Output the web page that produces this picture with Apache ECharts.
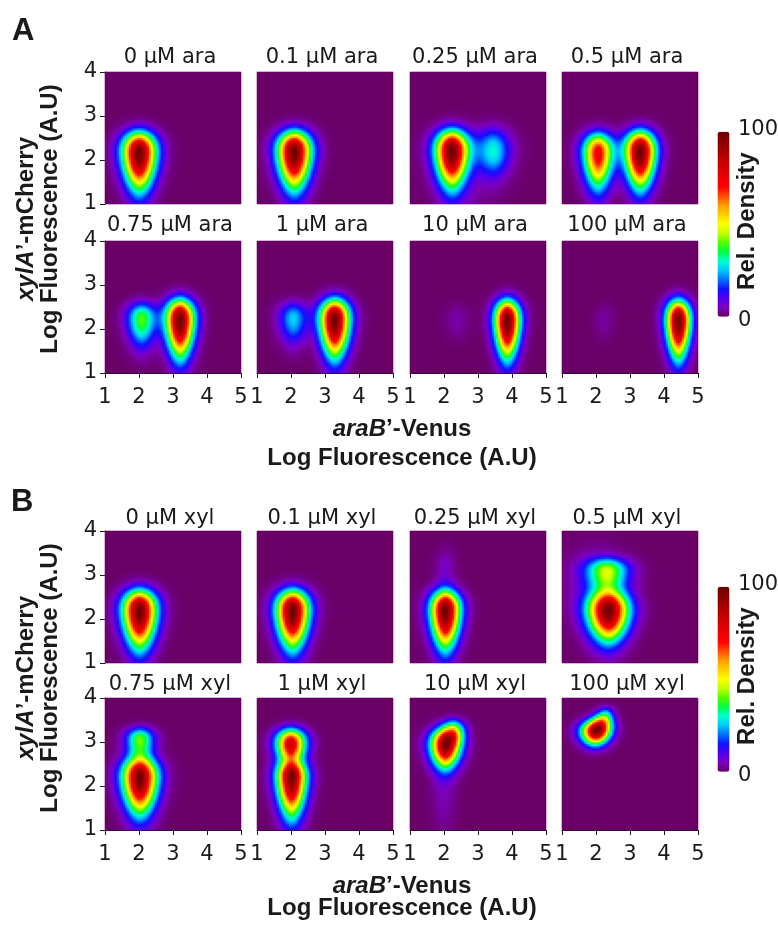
<!DOCTYPE html>
<html>
<head>
<meta charset="utf-8">
<title>ara / xyl density maps</title>
<script src="https://cdn.jsdelivr.net/npm/echarts@6/dist/echarts.min.js"></script>
<style>
  html, body { margin: 0; padding: 0; background: #fff; }
  #chart { width: 778px; height: 928px; }
</style>
</head>
<body>
<div id="chart"></div>
<script>
const araLabels = ['0 μM ara', '0.1 μM ara', '0.25 μM ara', '0.5 μM ara',
  '0.75 μM ara', '1 μM ara', '10 μM ara', '100 μM ara'];
const xylLabels = ['0 μM xyl', '0.1 μM xyl', '0.25 μM xyl', '0.5 μM xyl',
  '0.75 μM xyl', '1 μM xyl', '10 μM xyl', '100 μM xyl'];

// populations: [x, y, spreadX, spreadUp, spreadDown, height]
const araPeaks = [
  [[2.01, 2.16, 0.32, 0.34, 0.57, 1]],
  [[2.10, 2.18, 0.32, 0.34, 0.57, 1]],
  [[2.24, 2.20, 0.31, 0.34, 0.55, 1], [3.47, 2.20, 0.32, 0.37, 0.38, 0.28], [2.70, 2.00, 0.70, 0.50, 0.90, 0.05]],
  [[2.07, 2.15, 0.29, 0.33, 0.55, 0.75], [3.31, 2.18, 0.29, 0.34, 0.55, 1]],
  [[2.08, 2.22, 0.28, 0.27, 0.42, 0.40], [3.21, 2.20, 0.27, 0.34, 0.57, 1]],
  [[2.07, 2.23, 0.28, 0.27, 0.38, 0.26], [3.29, 2.20, 0.28, 0.34, 0.57, 1]],
  [[2.40, 2.20, 0.25, 0.27, 0.30, 0.04], [3.87, 2.18, 0.24, 0.34, 0.57, 1]],
  [[2.25, 2.20, 0.20, 0.27, 0.30, 0.035], [4.43, 2.18, 0.23, 0.34, 0.57, 1]],
];
const xylPeaks = [
  [[2.02, 2.18, 0.32, 0.34, 0.57, 1]],
  [[2.05, 2.18, 0.31, 0.34, 0.57, 1]],
  [[2.05, 2.18, 0.28, 0.33, 0.57, 1], [2.05, 3.10, 0.20, 0.36, 0.40, 0.06]],
  [[2.38, 2.17, 0.38, 0.33, 0.45, 1], [2.35, 3.08, 0.40, 0.22, 0.32, 0.45], [2.00, 2.80, 0.55, 0.62, 0.80, 0.07]],
  [[2.03, 2.18, 0.33, 0.33, 0.55, 1], [2.03, 3.05, 0.27, 0.20, 0.30, 0.42]],
  [[2.02, 2.18, 0.28, 0.27, 0.60, 1], [2.00, 2.95, 0.28, 0.25, 0.30, 0.85]],
  [[2.05, 2.92, 0.28, 0.27, 0.34, 1], [2.30, 3.25, 0.21, 0.19, 0.20, 0.40], [2.00, 1.80, 0.25, 0.54, 0.60, 0.05]],
  [[1.97, 3.22, 0.27, 0.18, 0.20, 1], [2.15, 3.42, 0.22, 0.16, 0.20, 0.55], [2.30, 3.62, 0.16, 0.14, 0.16, 0.28]],
];

const xRange = [1, 5];
const yRange = [1, 4];
const xCells = 68;
const yCells = 66;

const densityColors = ['#6a0067', '#7e00bc', '#5000f0', '#1010ff', '#0070ff', '#00c8ff',
  '#00ffd0', '#00ff40', '#50ff00', '#c0ff00', '#ffff00', '#ffd000', '#ffa000', '#ff5000',
  '#ff0000', '#ee0000', '#d80000', '#c00000', '#a40000', '#880000', '#6e0000'];

const ink = '#1a1a1a';
const regFont = '"DejaVu Sans", sans-serif';
const boldFont = '"Liberation Sans", Arial, sans-serif';

function densityGrid(peaks) {
  const raw = [];
  let top = 0;
  for (let j = 0; j < yCells; j++) {
    const y = yRange[0] + (j + 0.5) * (yRange[1] - yRange[0]) / yCells;
    for (let i = 0; i < xCells; i++) {
      const x = xRange[0] + (i + 0.5) * (xRange[1] - xRange[0]) / xCells;
      let v = 0;
      for (const [cx, cy, sx, su, sd, amp] of peaks) {
        const dy = y - cy;
        const w = dy < 0 ? sx * Math.max(0.5, 1 + 0.15 * dy) : sx;
        const ey = dy < 0 ? Math.pow(dy / sd, 2) : Math.pow(dy / su, 2.4);
        v += amp * Math.exp(-0.5 * (Math.pow(Math.abs(x - cx) / w, 1.8) + ey));
      }
      top = Math.max(top, v);
      raw.push([i, j, v]);
    }
  }
  return raw.map(([i, j, v]) => [i, j, Math.round(v / top * 1000) / 10]);
}

const colLeft = [105, 257, 410, 562];
const panelW = 136;
const sections = [
  { labels: araLabels, peaks: araPeaks, rowTop: [72, 241], h: 132, titleY: [58, 226] },
  { labels: xylLabels, peaks: xylPeaks, rowTop: [531, 698], h: 132, titleY: [518.5, 685] },
];

const xIdx = Array.from({ length: xCells }, (_, i) => i);
const yIdx = Array.from({ length: yCells }, (_, j) => j);

const grid = [], xAxis = [], yAxis = [], series = [], graphic = [];
const valueX = [], valueY = [];

function text(str, x, y, size, font, align, weight) {
  return {
    type: 'text', x, y, silent: true,
    style: {
      text: str, fill: ink, fontSize: size, fontFamily: font, fontWeight: weight || 'normal',
      textAlign: align || 'center', textVerticalAlign: 'middle'
    }
  };
}

sections.forEach((sec, s) => {
  sec.labels.forEach((label, p) => {
    const row = Math.floor(p / 4), col = p % 4;
    const k = grid.length;
    grid.push({ left: colLeft[col], top: sec.rowTop[row], width: panelW, height: sec.h,
      outerBoundsMode: 'none' });
    xAxis.push({ type: 'category', gridIndex: k, data: xIdx, show: false, position: 'bottom' });
    yAxis.push({ type: 'category', gridIndex: k, data: yIdx, show: false, position: 'left' });
    valueX.push({
      type: 'value', gridIndex: k, position: 'bottom', min: xRange[0], max: xRange[1], interval: 1,
      show: row === 1,
      axisLine: { show: true, onZero: false, lineStyle: { color: ink, width: 1 } },
      axisTick: { show: true, length: 5, lineStyle: { color: ink } },
      axisLabel: { fontSize: 21, fontFamily: regFont, color: ink, margin: 14 },
      splitLine: { show: false }
    });
    valueY.push({
      type: 'value', gridIndex: k, position: 'left', min: yRange[0], max: yRange[1], interval: 1,
      show: col === 0,
      axisLine: { show: true, onZero: false, lineStyle: { color: ink, width: 1 } },
      axisTick: { show: true, length: 5, lineStyle: { color: ink } },
      axisLabel: { fontSize: 21, fontFamily: regFont, color: ink, margin: 8 },
      splitLine: { show: false }
    });
    series.push({
      type: 'heatmap', xAxisIndex: k, yAxisIndex: k, data: densityGrid(sec.peaks[p]),
      progressive: 0, silent: true, emphasis: { disabled: true }
    });
    graphic.push(text(label, colLeft[col] + panelW / 2 - 3, sec.titleY[row], 21, regFont));
  });
});

// section letters
graphic.push(text('A', 12, 31, 31, boldFont, 'left', 'bold'));
graphic.push(text('B', 11, 502.5, 31, boldFont, 'left', 'bold'));

const richBold = {
  i: { fontSize: 24, fontFamily: boldFont, fontWeight: 'bold', fontStyle: 'italic', fill: ink },
  n: { fontSize: 24, fontFamily: boldFont, fontWeight: 'bold', fill: ink }
};
function boldText(str, x, y, rot) {
  return {
    type: 'text', x, y, rotation: rot || 0, silent: true,
    style: { text: str, rich: richBold, textAlign: 'center', textVerticalAlign: 'middle' }
  };
}

const xTitleY = [[429, 458.5], [886, 908]];
const yTitleY = [219, 678];
const barTop = [131.7, 586.7];
xTitleY.forEach(([a, b], s) => {
  graphic.push(boldText('{i|araB}{n|’-Venus}', 402, a));
  graphic.push(boldText('{n|Log Fluorescence (A.U)}', 402, b));
  graphic.push(boldText('{i|xylA}{n|’-mCherry}', 26.5, yTitleY[s], Math.PI / 2));
  graphic.push(boldText('{n|Log Fluorescence (A.U)}', 50, yTitleY[s], Math.PI / 2));
  graphic.push(boldText('{n|Rel. Density}', 747.5, barTop[s] + 89.5, Math.PI / 2));
  graphic.push(text('100', 738, barTop[s] - 2, 21, regFont, 'left'));
  graphic.push(text('0', 738, barTop[s] + 188.5, 21, regFont, 'left'));
});

const visualMap = sections.map((sec, s) => ({
  type: 'continuous', min: 0, max: 100, calculable: false, show: true,
  seriesIndex: Array.from({ length: 8 }, (_, i) => s * 8 + i),
  left: 717.5, top: barTop[s], itemWidth: 12, itemHeight: 185, padding: 0,
  text: null, showLabel: false,
  inRange: { color: densityColors }
}));

const chart = echarts.init(document.getElementById('chart'), null, { renderer: 'canvas' });
chart.setOption({
  animation: false,
  backgroundColor: '#ffffff',
  grid,
  xAxis: xAxis.concat(valueX),
  yAxis: yAxis.concat(valueY),
  visualMap,
  series,
  graphic: { elements: graphic }
});
</script>
</body>
</html>
